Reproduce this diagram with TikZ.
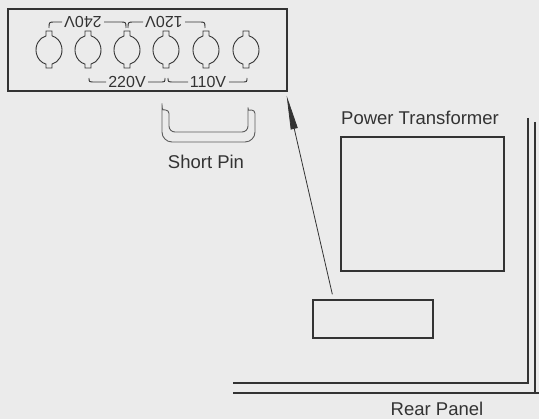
\documentclass[tikz,border=0pt]{standalone}
\usepackage{fontspec}
\setmainfont{Liberation Sans}
\usetikzlibrary{calc,arrows.meta}
\definecolor{ink}{gray}{0.2}
\definecolor{paper}{gray}{0.92}
\tikzset{
  box/.style={draw=ink, line width=1.3pt, inner sep=0pt},
  volt/.style={text=ink, font=\fontsize{16}{18}\selectfont, inner sep=0pt},
  caption/.style={text=ink, font=\fontsize{18.5}{21}\selectfont, inner sep=0pt}
}
\begin{document}
\begin{tikzpicture}[x=1pt,y=-1pt,line width=0.9pt,draw=ink]
\fill[paper] (0,0) rectangle (539,419);
\useasboundingbox (0,0) rectangle (539,419);
% terminal board
\node[box, minimum width=279pt, minimum height=82pt] (panel) at (147.5,50) {};
\foreach \x in {49,88,127,166,206,246} {
  \draw[ink] (\x+3,50-14.1) -- (\x+3,50-19) -- (\x-3,50-19) -- (\x-3,50-14.1)
    arc[start angle=256.66, end angle=103.34, x radius=13, y radius=14.5]
    -- (\x-3,50+18) -- (\x+3,50+18) -- (\x+3,50+14.1)
    arc[start angle=76.66, end angle=-76.66, x radius=13, y radius=14.5];
}
\node[volt, rotate=180] (v240) at (83,22) {240V};
\node[volt, rotate=180] (v120) at (164,22) {120V};
\node[volt] (v220) at (127,82) {220V};
\node[volt] (v110) at (208,82) {110V};
\draw[ink] (49,28) .. controls (49,22) .. (55,22) -- (62,22);
\draw[ink] (104,22) -- (120,22) .. controls (126,22) .. (126,28);
\draw[ink] (128,28) .. controls (128,22) .. (134,22) -- (143,22);
\draw[ink] (185,22) -- (199,22) .. controls (205,22) .. (205,28);
\draw[ink] (89,78) .. controls (89,82) .. (95,82) -- (106,82);
\draw[ink] (148,82) -- (160,82) .. controls (165,82) .. (165,78);
\draw[ink] (168,78) .. controls (168,82) .. (174,82) -- (188,82);
\draw[ink] (229,82) -- (242,82) .. controls (247,82) .. (247,78);
% short pin
\draw[ink!80] (169,113.5) {[rounded corners=6] -- (169,132) -- (248,132) -- (248,113.5)}
  arc[start angle=180, end angle=360, radius=3.5]
  {[rounded corners=10] -- (255,142) -- (162,142) -- (162,113.5)}
  arc[start angle=180, end angle=360, radius=3.5] -- cycle;
\node[caption] (pin) at (206,162) {Short Pin};
% transformer and socket
\node[caption] (trafoname) at (420,118) {Power Transformer};
\node[box, minimum width=163pt, minimum height=134pt] (trafo) at (422.5,204) {};
\node[box, minimum width=120pt, minimum height=38pt] (socket) at (373,319) {};
\draw[ink, line width=0.8pt, -{Triangle[length=34pt,width=7pt]}]
  ($(socket.north west)+(20,-5)$) -- ($(panel.south east)+(-1,4)$);
% rear panel
\draw[ink, line width=1.4pt] (528,118) -- (528,383) -- (233,383);
\draw[ink, line width=1.4pt] (535,122) -- (535,393);
\draw[ink, line width=1.4pt] (233,393) -- (539,393);
\node[caption] (rear) at (437,409) {Rear Panel};
\end{tikzpicture}
\end{document}
